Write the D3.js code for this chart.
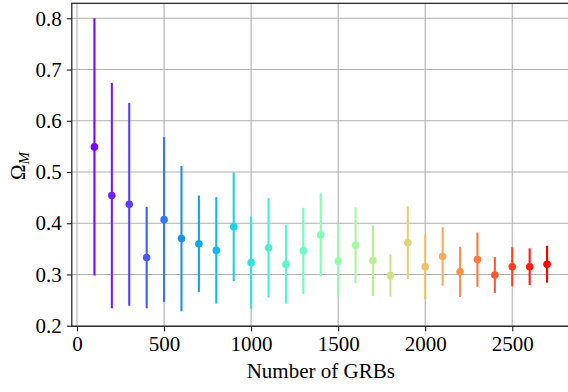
<!DOCTYPE html>
<html>
<head>
<meta charset="utf-8">
<script src="https://cdn.jsdelivr.net/npm/d3@7"></script>
<style>
  html, body { margin: 0; padding: 0; background: #fff; }
  svg { display: block; }
  text { font-family: "Liberation Serif", "DejaVu Serif", serif; fill: #000; }
</style>
</head>
<body>
<svg id="chart" width="568" height="392"></svg>
<script>
// ---- data ----
const nGRB = [100, 200, 300, 400, 500, 600, 700, 800, 900, 1000, 1100, 1200, 1300, 1400,
              1500, 1600, 1700, 1800, 1900, 2000, 2100, 2200, 2300, 2400, 2500, 2600, 2700];
const omegaM = [0.549, 0.454, 0.437, 0.333, 0.407, 0.370, 0.360, 0.347, 0.393, 0.323,
                0.352, 0.320, 0.346, 0.377, 0.326, 0.357, 0.327, 0.298, 0.362, 0.315,
                0.335, 0.305, 0.329, 0.299, 0.315, 0.315, 0.320];
const omegaErr = [0.251, 0.220, 0.198, 0.099, 0.161, 0.142, 0.094, 0.104, 0.106, 0.090,
                  0.097, 0.077, 0.084, 0.081, 0.070, 0.074, 0.069, 0.041, 0.071, 0.063,
                  0.057, 0.049, 0.053, 0.035, 0.038, 0.036, 0.036];
const xTicks = [0, 500, 1000, 1500, 2000, 2500];
const yTicks = [0.2, 0.3, 0.4, 0.5, 0.6, 0.7, 0.8];
const xLabel = "Number of GRBs";

// ---- layout ----
const svg = d3.select("#chart");
const padL = 71.8, padR = 569.7, padT = 3.3, padB = 326.3;

const x = d3.scaleLinear().domain([-30, 2830]).range([padL, padR]);
const y = d3.scaleLinear().domain([0.1988, 0.8293]).range([padB, padT]);

// matplotlib "rainbow" colormap
function rainbow(t) {
  const c = v => Math.max(0, Math.min(1, v));
  const r = c(Math.abs(2 * t - 0.5)), g = c(Math.sin(Math.PI * t)), b = c(Math.cos(Math.PI * t / 2));
  return d3.rgb(r * 255, g * 255, b * 255).formatHex();
}
const color = d3.scaleSequential(rainbow).domain([0, nGRB.length - 1]);

const data = nGRB.map((n, i) => ({ n, v: omegaM[i], e: omegaErr[i], i }));

// grid
const grid = svg.append("g");
grid.selectAll("line.gx").data(xTicks).join("line")
  .attr("x1", d => x(d)).attr("x2", d => x(d))
  .attr("y1", padT).attr("y2", padB)
  .attr("stroke", "#b0b0b0").attr("stroke-width", 1.1);
grid.selectAll("line.gy").data(yTicks).join("line")
  .attr("x1", padL).attr("x2", padR)
  .attr("y1", d => y(d)).attr("y2", d => y(d))
  .attr("stroke", "#b0b0b0").attr("stroke-width", 1.1);

// error bars and markers
const pts = svg.append("g");
data.forEach(d => {
  pts.append("line")
    .attr("x1", x(d.n)).attr("x2", x(d.n))
    .attr("y1", y(d.v - d.e)).attr("y2", y(d.v + d.e))
    .attr("stroke", color(d.i)).attr("stroke-width", 2.1);
  pts.append("circle")
    .attr("cx", x(d.n)).attr("cy", y(d.v)).attr("r", 3.8)
    .attr("fill", color(d.i));
});

// frame
svg.append("rect")
  .attr("x", padL).attr("y", padT)
  .attr("width", padR - padL).attr("height", padB - padT)
  .attr("fill", "none").attr("stroke", "#1a1a1a").attr("stroke-width", 1.2);

// axes
const xAxis = d3.axisBottom(x).tickValues(xTicks).tickSize(5).tickPadding(5)
  .tickFormat(d3.format("d"));
const gx = svg.append("g").attr("transform", `translate(0,${padB})`).call(xAxis);
gx.select(".domain").remove();
gx.selectAll("line").attr("stroke", "#1a1a1a").attr("stroke-width", 1.1);
gx.selectAll("text").attr("font-size", 21).attr("font-family", "Liberation Serif, serif").attr("fill", "#000");

const yAxis = d3.axisLeft(y).tickValues(yTicks).tickSize(5).tickPadding(5)
  .tickFormat(d3.format(".1f"));
const gy = svg.append("g").attr("transform", `translate(${padL},0)`).call(yAxis);
gy.select(".domain").remove();
gy.selectAll("line").attr("stroke", "#1a1a1a").attr("stroke-width", 1.1);
gy.selectAll("text").attr("font-size", 21).attr("font-family", "Liberation Serif, serif").attr("fill", "#000");

// labels
svg.append("text")
  .attr("x", (padL + padR) / 2).attr("y", 378)
  .attr("text-anchor", "middle").attr("font-size", 21)
  .text(xLabel);

const yl = svg.append("text")
  .attr("transform", "translate(25,166) rotate(-90)")
  .attr("text-anchor", "middle").attr("font-size", 21);
yl.append("tspan").text("Ω");
yl.append("tspan").attr("font-size", 15).attr("font-style", "italic").attr("dy", 4).text("M");
</script>
</body>
</html>
